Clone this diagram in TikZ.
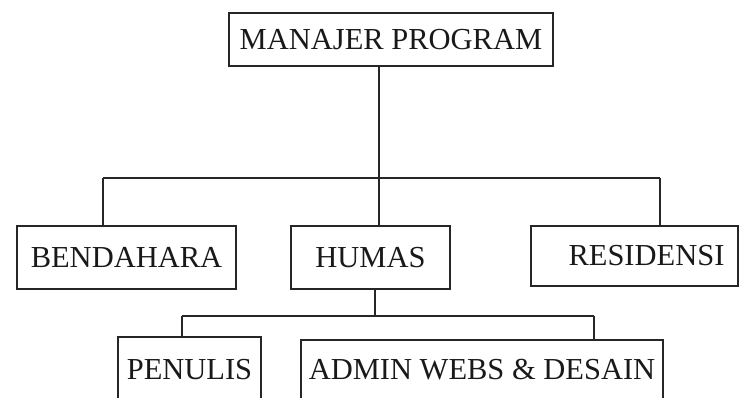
\documentclass[tikz,border=0pt]{standalone}
\usepackage{fontspec}
\setmainfont{Liberation Serif}
\begin{document}
\begin{tikzpicture}[x=1pt,y=-1pt,
  box/.style={draw=black!85, line width=1.8pt, rectangle, inner sep=0pt, outer sep=0pt,
    anchor=north west, font=\fontsize{30.5}{31}\selectfont, text=black!90},
  conn/.style={draw=black!85, line width=1.8pt}]
\useasboundingbox (0,0) rectangle (741,397);
\clip (0,0) rectangle (741,397);
\node[box, minimum width=324pt, minimum height=53pt] (mgr) at (229,13) {MANAJER PROGRAM};
\node[box, minimum width=219pt, minimum height=63pt] (bend) at (17,226) {BENDAHARA};
\node[box, minimum width=159pt, minimum height=63pt] (humas) at (291,226) {HUMAS};
\node[box, minimum width=207pt, minimum height=60pt] (resi) at (531,226) {\hspace{24pt}RESIDENSI};
\node[box, minimum width=143pt, minimum height=66pt] (penu) at (118,337) {PENULIS};
\node[box, minimum width=362pt, minimum height=60pt] (admin) at (301,340) {ADMIN WEBS \& DESAIN};
\coordinate (b1) at (379,178);
\coordinate (bl) at (103,178);
\coordinate (br) at (660,178);
\coordinate (b2) at (375,316);
\coordinate (b2l) at (182,316);
\coordinate (b2r) at (594,316);
\draw[conn] (mgr.south -| b1) -- (b1);
\draw[conn] (bl) -- (br);
\draw[conn] (bl) -- (bl |- bend.north);
\draw[conn] (b1) -- (b1 |- humas.north);
\draw[conn] (br) -- (br |- resi.north);
\draw[conn] (b2 |- humas.south) -- (b2);
\draw[conn] (b2l) -- (b2r);
\draw[conn] (b2l) -- (b2l |- penu.north);
\draw[conn] (b2r) -- (b2r |- admin.north);
\end{tikzpicture}
\end{document}
